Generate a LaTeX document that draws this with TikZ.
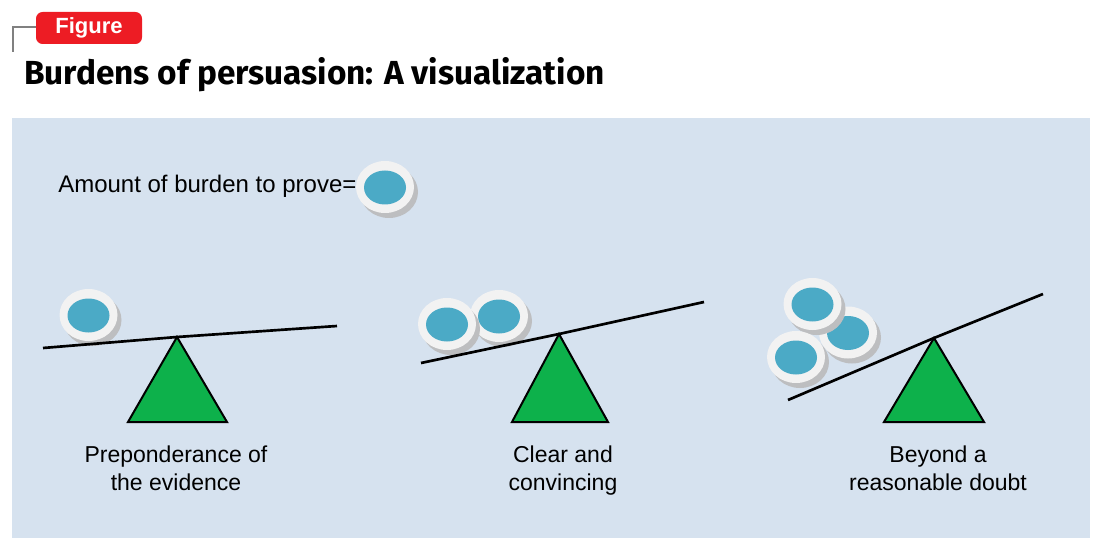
\documentclass[tikz,border=0pt]{standalone}
\usepackage{fontspec}
\setmainfont{Liberation Sans}
\newfontfamily\titlefont{Fira Sans}
\usetikzlibrary{positioning}

\definecolor{panelblue}{HTML}{D6E2EF}
\definecolor{figred}{HTML}{ED1C24}
\definecolor{fulcrum}{HTML}{0DB14B}
\definecolor{coinblue}{HTML}{4BAAC6}
\definecolor{coinring}{HTML}{F2F2F2}
\definecolor{coingray}{HTML}{BDBEC0}

\begin{document}
\begin{tikzpicture} [x=0.75pt, y=-0.75pt,
    beam/.style = {line width = 2pt, black},
    pivot/.style = {draw = black, fill = fulcrum, line width = 1.5pt, line join = miter},
    caption/.style = {align = center, inner sep = 0, anchor = north,
        font = \fontsize{17.25}{21}\selectfont}]

\useasboundingbox (0,0) rectangle (1100,549);

\newcommand{\coin}[1]{
  \fill [coingray, shift = {(#1)}] (4,5) ellipse [x radius = 29, y radius = 26];
  \fill [coinring, shift = {(#1)}] (0,0) ellipse [x radius = 29, y radius = 26];
  \fill [coinblue, shift = {(#1)}] (0,0.5) ellipse [x radius = 21, y radius = 17];
}

% header
\node (tag) [fill = figred, rounded corners = 5pt, text = white,
    minimum width = 79.5pt, minimum height = 24pt, inner sep = 0,
    font = \fontsize{16.5}{16.5}\selectfont\bfseries] at (89,28) {Figure};
\coordinate (corner) at (12.5,27);
\draw [gray, line width = 1.5pt] (12.5,52) -- (corner) -- (corner -| tag.west);

\node (title) [anchor = base west, inner sep = 0,
    font = \fontsize{25}{25}\selectfont\titlefont\bfseries] at (24,85)
    {Burdens of persuasion: A visualization};

% panel
\fill [panelblue] (12,118) rectangle (1090,538);

% legend
\node (amount) [anchor = base west, inner sep = 0,
    font = \fontsize{18}{18}\selectfont] at (58,193) {Amount of burden to prove=};
\coordinate (unit) at (385,187);
\coin{unit}

% preponderance
\coordinate (apex1) at (177,337);
\coordinate (baseL1) at (128,422);
\coordinate (baseR1) at (227,422);
\coordinate (foot1) at (176,422);
\coordinate (c11) at (88.5,315);
\coin{c11}
\draw [beam] (43,348) -- (apex1) -- (337,326);
\filldraw [pivot] (apex1) -- (baseL1) -- (baseR1) -- cycle;
\node (lbl1) [caption, below = 18pt of foot1] {Preponderance of\\the evidence};

% clear and convincing
\coordinate (apex2) at (559,334);
\coordinate (baseL2) at (512,422);
\coordinate (baseR2) at (608,422);
\coordinate (foot2) at (563,422);
\coordinate (c21) at (499,316);
\coordinate (c22) at (447,324);
\coin{c21}
\coin{c22}
\draw [beam] (421,363) -- (apex2) -- (704,302);
\filldraw [pivot] (apex2) -- (baseL2) -- (baseR2) -- cycle;
\node (lbl2) [caption, below = 18pt of foot2] {Clear and\\convincing};

% reasonable doubt
\coordinate (apex3) at (934,338);
\coordinate (baseL3) at (884,422);
\coordinate (baseR3) at (984,422);
\coordinate (foot3) at (938,422);
\coordinate (c31) at (848,332.5);
\coordinate (c32) at (812.5,304);
\coordinate (c33) at (796,357);
\coin{c31}
\coin{c32}
\coin{c33}
\draw [beam] (788,400) -- (apex3) -- (1043,294);
\filldraw [pivot] (apex3) -- (baseL3) -- (baseR3) -- cycle;
\node (lbl3) [caption, below = 18pt of foot3] {Beyond a\\reasonable doubt};

\end{tikzpicture}
\end{document}
